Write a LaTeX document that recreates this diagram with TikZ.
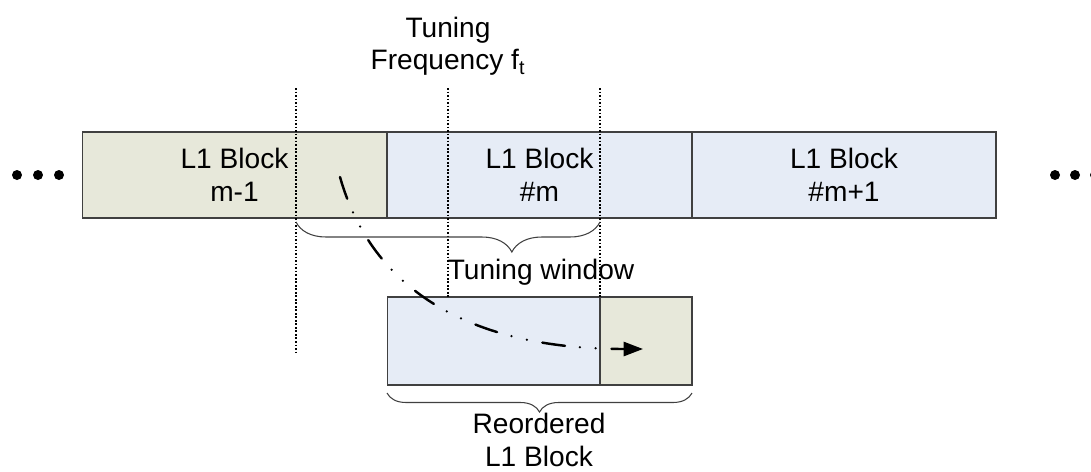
\documentclass[tikz,border=0pt]{standalone}
\usepackage{fontspec}
\setmainfont{Liberation Sans}
\usetikzlibrary{arrows.meta,decorations.pathreplacing}
\definecolor{blockgreen}{RGB}{231,232,218}
\definecolor{blockblue}{RGB}{230,236,246}
\definecolor{blockline}{RGB}{64,64,64}
\tikzset{
  l1block/.style={draw=blockline, fill=#1, line width=0.6pt, minimum height=1.72cm,
    inner sep=0pt, align=center, font=\fontsize{16}{19}\selectfont},
  txtlabel/.style={align=center, inner sep=0pt, font=\fontsize{16}{18.5}\selectfont},
  blockbrace/.style={draw=blockline, line width=0.6pt, decorate,
    decoration={brace, amplitude=#1}},
  markline/.style={draw=black, line width=1pt, dash pattern=on 1pt off 1pt},
  moredot/.style={circle, fill=black, minimum size=0.2cm, inner sep=0pt},
}
\begin{document}
\begin{tikzpicture}[x=0.02cm, y=-0.02cm]
            \useasboundingbox (0,0) rectangle (1091,471);
            % top row of blocks
            \node[l1block=blockgreen, minimum width=6.1cm] (blkprev) at (234.5,175) {L1 Block\\m-1};
            \node[l1block=blockblue, minimum width=6.1cm] (blkm) at (539.5,175) {L1 Block\\\#m};
            \node[l1block=blockblue, minimum width=6.08cm] (blknext) at (844,175) {L1 Block\\\#m+1};
            \foreach \x [count=\i] in {17,38,59}
                \node[moredot] (ldot\i) at (\x,175) {};
            \foreach \x [count=\i] in {1055,1075,1095}
                \node[moredot] (rdot\i) at (\x,175) {};
            % reordered block
            \node[l1block=blockblue, minimum width=4.26cm, minimum height=1.76cm] (reoleft) at (493.5,341) {};
            \node[l1block=blockgreen, minimum width=1.84cm, minimum height=1.76cm] (reoright) at (646,341) {};
            % tuning marks
            \coordinate (markA1) at (296,88);  \coordinate (markA2) at (296,355);
            \coordinate (markB1) at (448,88);  \coordinate (markB2) at (448,297);
            \coordinate (markC1) at (600,88);  \coordinate (markC2) at (600,297);
            \draw[markline] (markA1) -- (markA2);
            \draw[markline] (markB1) -- (markB2);
            \draw[markline] (markC1) -- (markC2);
            \node[txtlabel] (tunefreq) at (448,46) {Tuning\\Frequency f\textsubscript{t}};
            % braces
            \coordinate (winR) at (600,222); \coordinate (winL) at (296,222);
            \draw[blockbrace=0.6cm, decoration={aspect=0.29}] (winR) -- (winL);
            \node[txtlabel] (tunewin) at (541,272) {Tuning window};
            \coordinate (reoR) at (692,393); \coordinate (reoL) at (387,393);
            \draw[blockbrace=0.38cm] (reoR) -- (reoL);
            \node[txtlabel] (reolabel) at (539,440) {Reordered\\L1 Block};
            % reorder arrow
            \coordinate (arrstart) at (340,177);
            \coordinate (arrend) at (643,349);
            \draw[draw=black, line width=1.4pt, line cap=round,
                dash pattern=on 13pt off 8.5pt on 0pt off 9pt on 0pt off 9pt,
                -{Triangle[length=11pt, width=8pt]}]
                (arrstart) .. controls (372,290) and (470,349) .. (arrend);
        \end{tikzpicture}
\end{document}
